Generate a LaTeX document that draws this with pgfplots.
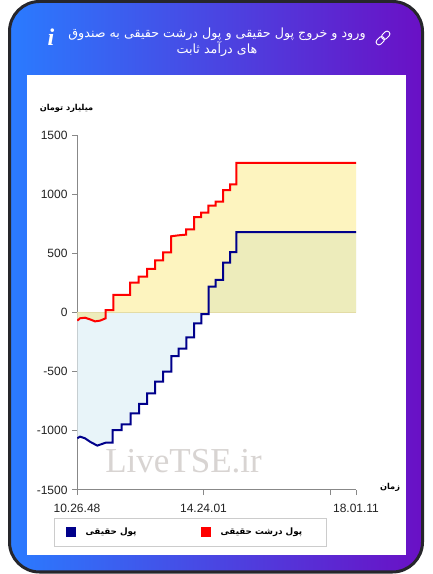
\documentclass[border=0pt]{standalone}
\usepackage{fontspec}
\usepackage{pgfplots}
\usepackage{pgfplotstable}
\pgfplotsset{compat=1.18}
\setmainfont{Liberation Sans}
\newfontfamily\arabicfont[Script=Arabic]{DejaVu Sans}
\newfontfamily\serifwm{Liberation Serif}
\TeXXeTstate=1
\definecolor{gradL}{HTML}{2A7BFF}
\definecolor{gradR}{HTML}{6A10C5}
\definecolor{cardB}{HTML}{26262B}
\definecolor{axisG}{HTML}{888888}
\definecolor{navyL}{HTML}{00008B}
\definecolor{fillB}{HTML}{E8F4F9}
\definecolor{fillY}{HTML}{FBDB2D}
\definecolor{zeroL}{HTML}{E3DCA6}
\definecolor{wm}{HTML}{D8D4D2}
\definecolor{tickT}{HTML}{222222}
\pgfplotstableread{
x y
77.3 -69
80 -49
85 -44
90 -58
95 -75
100 -69
105.7 -49
105.7 21
113.3 21
113.3 148
130 148
130 252
138.7 252
138.7 303
147 303
147 368
155 368
155 441
163 441
163 508
171 508
171 644
178.3 652
186 658
186 703
194 703
194 807
201 807
201 844
208.3 844
208.3 903
215.7 903
215.7 937
223 937
223 1035
230 1035
230 1083
236.3 1083
236.3 1265
356 1265
}\redtable
\pgfplotstableread{
x y
77.3 -1063
80 -1049
85 -1063
90 -1092
97.3 -1125
105.7 -1100
112.7 -1100
112.7 -993
121.7 -993
121.7 -945
130.7 -945
130.7 -852
139 -852
139 -773
147 -773
147 -683
155 -683
155 -585
163 -585
163 -500
171.3 -500
171.3 -368
178.7 -368
178.7 -306
186.3 -306
186.3 -210
194 -210
194 -92
201.3 -92
201.3 -13
208.7 -13
208.7 218
215.7 218
215.7 275
223 275
223 421
230 421
230 511
236.3 511
236.3 680
356 680
}\bluetable
\begin{document}
\begin{tikzpicture}[x=1pt,y=1pt]
\useasboundingbox (0,0) rectangle (433,574);
% card (y = 574 - pixel y)
\shade[left color=gradL,right color=gradR,rounded corners=30pt] (9.5,2) rectangle (422.5,572.5);
\draw[cardB,line width=3pt,rounded corners=30pt] (9.5,2) rectangle (422.5,572.5);
\fill[white] (27,19) rectangle (406,499);
% header
\node[white,align=center,font=\fontsize{12.7}{14.5}\selectfont,inner sep=0pt] at (217,532)
  {{\arabicfont\beginR ورود و خروج پول حقیقی و پول درشت حقیقی به صندوق\endR}\\[0pt]{\arabicfont\beginR های درآمد ثابت\endR}};
\node[white,inner sep=0pt,font=\serifwm\bfseries\itshape\fontsize{24}{24}\selectfont] at (51,537) {i};
\begin{scope}[shift={(383,536)},rotate=45,white,line width=1pt]
  \draw[rounded corners=2.6pt] (-8.5,-2.8) rectangle (0.8,2.8);
  \draw[rounded corners=2.6pt] (-0.8,-2.8) rectangle (8.5,2.8);
\end{scope}
\begin{axis}[
  at={(77pt,84pt)},anchor=south west,
  width=279pt,height=355pt,scale only axis,
  xmin=77,xmax=356,ymin=-1500,ymax=1500,
  axis lines*=left,
  axis line style={draw=axisG,line width=1pt,-},
  tick style={draw=axisG,line width=1pt},
  tick align=outside,major tick length=5pt,
  xtick pos=bottom,ytick pos=left,
  xtick={77,203.5,330.5,356},
  xticklabels={10.26.48,14.24.01,,18.01.11},
  ytick={-1500,-1000,-500,0,500,1000,1500},
  yticklabels={-1500,-1000,-500,0,500,1000,1500},
  tick label style={font=\fontsize{12}{12}\selectfont,text=tickT},
  xticklabel style={yshift=-6pt},
  yticklabel style={xshift=-1pt},
  xlabel={\arabicfont\beginR زمان\endR},
  ylabel={\arabicfont\beginR میلیارد تومان\endR},
  every axis x label/.style={at={(rel axis cs:1.122,0.006)},anchor=center,font=\fontsize{8.2}{9}\selectfont\bfseries},
  every axis y label/.style={at={(rel axis cs:-0.0376,1.076)},anchor=center,font=\fontsize{8.2}{9}\selectfont\bfseries},
  legend columns=2,
  legend cell align=left,
  legend style={at={(-0.0824,-0.0775)},anchor=north west,draw=black!20,line width=1pt,
    inner xsep=11pt,inner ysep=8pt,font=\fontsize{8.8}{10}\selectfont\bfseries,
    /tikz/every odd column/.append style={column sep=2pt}},
  legend image code/.code={\fill[#1,draw=none] (0pt,-5pt) rectangle (10pt,5pt);},
]
\addplot[draw=none,fill=fillB,forget plot] table[x=x,y=y] {\bluetable} \closedcycle;
\addplot[draw=none,fill=fillY,fill opacity=0.3,forget plot] table[x=x,y=y] {\redtable} \closedcycle;
\addplot[zeroL,line width=1pt,forget plot] coordinates {(77,0) (356,0)};
\addplot[navyL,line width=2pt] table[x=x,y=y] {\bluetable};
\addlegendentry{\makebox[119pt][l]{\hspace*{6pt}\arabicfont\beginR پول حقیقی\endR}}
\addplot[red,line width=2pt] table[x=x,y=y] {\redtable};
\addlegendentry{\makebox[99pt][l]{\hspace*{6pt}\arabicfont\beginR پول درشت حقیقی\endR}}
\end{axis}
\node[wm,inner sep=0pt,anchor=center,font=\serifwm\fontsize{35}{35}\selectfont] at (183.5,113) {LiveTSE.ir};
\end{tikzpicture}
\end{document}
